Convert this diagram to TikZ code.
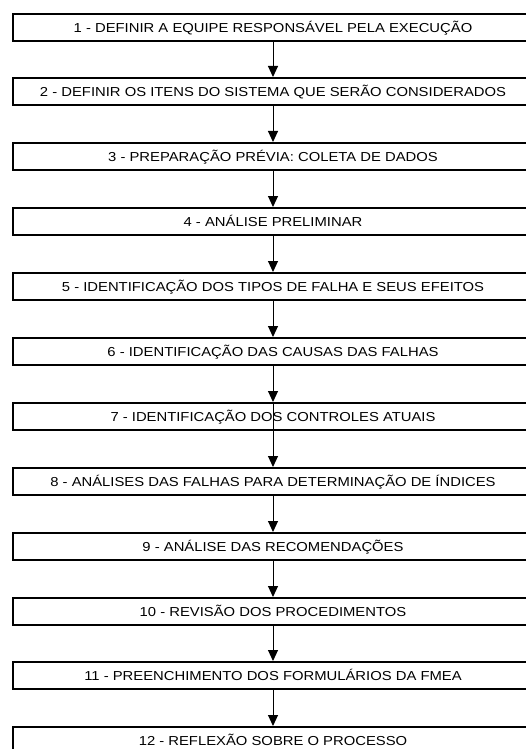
\documentclass[tikz,border=0pt]{standalone}
\usepackage{fontspec}
\setmainfont{Liberation Sans}[FakeStretch=1.14]
\usetikzlibrary{arrows.meta}
\begin{document}
\begin{tikzpicture}[x=1pt,y=1pt,
  stepbox/.style={draw=black,line width=2pt,minimum width=520pt,minimum height=27pt,
    inner sep=0pt,text height=9.3pt,text depth=0pt,anchor=north,
    font=\fontsize{13}{15}\selectfont},
  arr/.style={line width=1pt,-{Triangle[width=10pt,length=11pt]}}]
\useasboundingbox (0,0) rectangle (526,-749);
\node[stepbox] (b1)  at (273,-13)  {1 - DEFINIR A EQUIPE RESPONSÁVEL PELA EXECUÇÃO};
\node[stepbox] (b2)  at (273,-77)  {2 - DEFINIR OS ITENS DO SISTEMA QUE SERÃO CONSIDERADOS};
\node[stepbox] (b3)  at (273,-142) {3 - PREPARAÇÃO PRÉVIA: COLETA DE DADOS};
\node[stepbox] (b4)  at (273,-207) {4 - ANÁLISE PRELIMINAR};
\node[stepbox] (b5)  at (273,-272) {5 - IDENTIFICAÇÃO DOS TIPOS DE FALHA E SEUS EFEITOS};
\node[stepbox] (b6)  at (273,-337) {6 - IDENTIFICAÇÃO DAS CAUSAS DAS FALHAS};
\node[stepbox] (b7)  at (273,-402) {7 - IDENTIFICAÇÃO DOS CONTROLES ATUAIS};
\node[stepbox] (b8)  at (273,-467) {8 - ANÁLISES DAS FALHAS PARA DETERMINAÇÃO DE ÍNDICES};
\node[stepbox] (b9)  at (273,-532) {9 - ANÁLISE DAS RECOMENDAÇÕES};
\node[stepbox] (b10) at (273,-597) {10 - REVISÃO DOS PROCEDIMENTOS};
\node[stepbox] (b11) at (273,-661) {11 - PREENCHIMENTO DOS FORMULÁRIOS DA FMEA};
\node[stepbox] (b12) at (273,-726) {12 - REFLEXÃO SOBRE O PROCESSO};
\foreach \a/\b in {b1/b2,b2/b3,b3/b4,b4/b5,b5/b6,b6/b7,b7/b8,b8/b9,b9/b10,b10/b11,b11/b12}
  \draw[arr] (\a.south) -- (\b.north);
\draw[line width=1pt] (b7.north) -- (b7.south);
\end{tikzpicture}
\end{document}
